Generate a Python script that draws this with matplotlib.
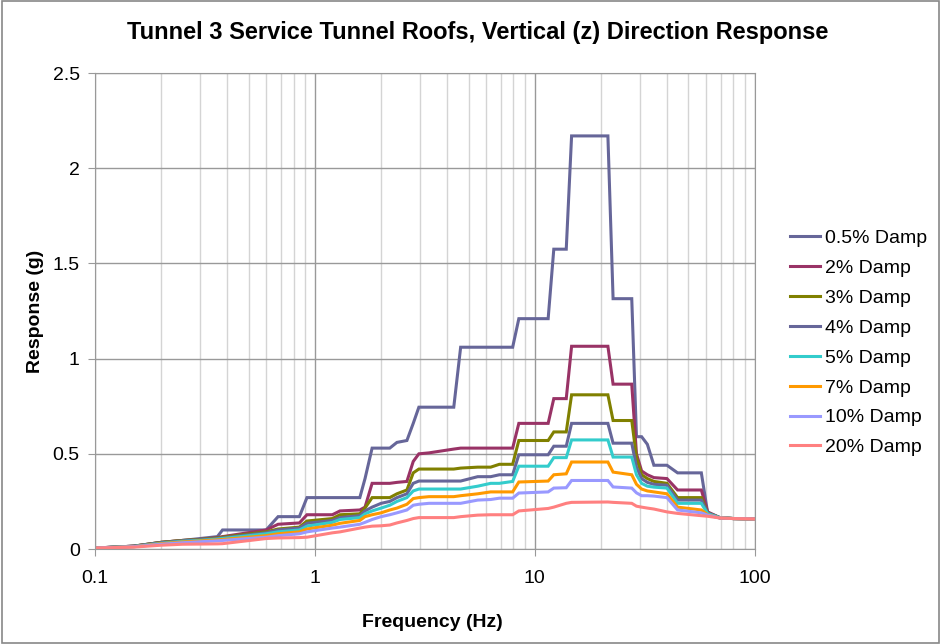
import matplotlib
matplotlib.use('Agg')

import matplotlib.pyplot as plt
from matplotlib.patches import Rectangle
from matplotlib.ticker import FixedLocator, FuncFormatter, NullFormatter

plt.rcParams['font.family'] = ['Liberation Sans', 'DejaVu Sans']

# frequency points (Hz), shared by every damping curve
freq = [0.1, 0.15, 0.2, 0.25, 0.3, 0.36, 0.38, 0.6, 0.68, 0.85, 0.92, 1.2, 1.3, 1.6,
        1.69, 1.82, 2.0, 2.19, 2.36, 2.62, 2.8, 2.97, 3.3, 4.28, 4.6, 5.5, 6.3, 6.9,
        7.93, 8.46, 11.5, 12.2, 13.9, 14.7, 21.5, 22.7, 27.6, 29.0, 30.6, 32.5, 34.8,
        39.9, 44.6, 57.2, 61.1, 69.4, 80, 100]

damp_05 = [0.005, 0.015, 0.035, 0.045, 0.055, 0.065, 0.10, 0.10, 0.17, 0.17, 0.27, 0.27, 0.27, 0.27,
           0.37, 0.53, 0.53, 0.53, 0.56, 0.57, 0.66, 0.745, 0.745, 0.745, 1.06, 1.06, 1.06, 1.06,
           1.06, 1.21, 1.21, 1.575, 1.575, 2.17, 2.17, 1.315, 1.315, 0.59, 0.59, 0.55, 0.44,
           0.44, 0.40, 0.40, 0.19, 0.163, 0.16, 0.158]
damp_2 = [0.005, 0.015, 0.035, 0.045, 0.05, 0.06, 0.065, 0.10, 0.13, 0.137, 0.18, 0.18, 0.20, 0.205,
          0.22, 0.345, 0.345, 0.345, 0.35, 0.355, 0.46, 0.50, 0.505, 0.525, 0.53, 0.53, 0.53, 0.53,
          0.53, 0.66, 0.66, 0.79, 0.79, 1.065, 1.065, 0.866, 0.866, 0.50, 0.41, 0.39, 0.375,
          0.37, 0.31, 0.31, 0.195, 0.165, 0.16, 0.158]
damp_3 = [0.005, 0.015, 0.035, 0.045, 0.05, 0.058, 0.062, 0.09, 0.105, 0.115, 0.147, 0.16, 0.18, 0.185,
          0.215, 0.27, 0.27, 0.27, 0.29, 0.31, 0.40, 0.42, 0.42, 0.42, 0.425, 0.43, 0.43, 0.445,
          0.445, 0.57, 0.57, 0.615, 0.615, 0.81, 0.81, 0.675, 0.675, 0.48, 0.39, 0.37, 0.355,
          0.345, 0.27, 0.27, 0.19, 0.165, 0.16, 0.158]
damp_4 = [0.005, 0.015, 0.033, 0.043, 0.048, 0.055, 0.058, 0.085, 0.10, 0.11, 0.135, 0.15, 0.165, 0.175,
          0.20, 0.22, 0.24, 0.25, 0.27, 0.29, 0.345, 0.357, 0.357, 0.357, 0.357, 0.38, 0.38, 0.39,
          0.39, 0.495, 0.495, 0.54, 0.54, 0.66, 0.66, 0.556, 0.556, 0.43, 0.37, 0.35, 0.34,
          0.335, 0.257, 0.257, 0.19, 0.165, 0.16, 0.158]
damp_5 = [0.005, 0.013, 0.03, 0.04, 0.045, 0.052, 0.055, 0.08, 0.09, 0.10, 0.12, 0.14, 0.155, 0.165,
          0.185, 0.20, 0.215, 0.23, 0.25, 0.27, 0.305, 0.315, 0.315, 0.315, 0.315, 0.33, 0.345, 0.345,
          0.355, 0.435, 0.435, 0.48, 0.48, 0.573, 0.573, 0.483, 0.483, 0.39, 0.345, 0.33, 0.325,
          0.32, 0.24, 0.24, 0.185, 0.165, 0.16, 0.158]
damp_7 = [0.005, 0.012, 0.028, 0.037, 0.042, 0.048, 0.05, 0.07, 0.08, 0.09, 0.105, 0.125, 0.135, 0.15,
          0.17, 0.18, 0.19, 0.205, 0.215, 0.235, 0.265, 0.27, 0.275, 0.275, 0.28, 0.29, 0.30, 0.30,
          0.30, 0.352, 0.357, 0.39, 0.395, 0.457, 0.457, 0.404, 0.39, 0.34, 0.315, 0.305, 0.30,
          0.29, 0.22, 0.205, 0.18, 0.163, 0.16, 0.158]
damp_10 = [0.005, 0.012, 0.025, 0.033, 0.038, 0.043, 0.045, 0.062, 0.07, 0.08, 0.09, 0.11, 0.115, 0.13,
           0.14, 0.155, 0.17, 0.18, 0.19, 0.205, 0.23, 0.235, 0.24, 0.24, 0.24, 0.257, 0.26, 0.267,
           0.267, 0.294, 0.30, 0.32, 0.322, 0.36, 0.36, 0.326, 0.32, 0.295, 0.28, 0.28, 0.278,
           0.27, 0.205, 0.19, 0.178, 0.163, 0.16, 0.158]
damp_20 = [0.005, 0.01, 0.02, 0.025, 0.026, 0.027, 0.028, 0.055, 0.058, 0.06, 0.062, 0.085, 0.09, 0.11,
           0.115, 0.12, 0.122, 0.126, 0.137, 0.15, 0.16, 0.165, 0.165, 0.165, 0.17, 0.178, 0.18, 0.18,
           0.18, 0.20, 0.213, 0.22, 0.24, 0.245, 0.247, 0.245, 0.24, 0.225, 0.22, 0.215, 0.21,
           0.195, 0.187, 0.175, 0.172, 0.163, 0.16, 0.158]

series = [damp_05, damp_2, damp_3, damp_4, damp_5, damp_7, damp_10, damp_20]
labels = ['0.5% Damp', '2% Damp', '3% Damp', '4% Damp', '5% Damp', '7% Damp', '10% Damp', '20% Damp']
colors = ['#666699', '#993366', '#808000', '#666699', '#33CCCC', '#FF9900', '#9999FF', '#FF8080']

fig = plt.figure(figsize=(9.41, 6.44), dpi=100)
ax = fig.add_axes([0.101, 0.1475, 0.701, 0.739])

for vals, lab, col in zip(series, labels, colors):
	ax.plot(freq, vals, color=col, lw=2.2, label=lab, solid_joinstyle='miter')

ax.set_xscale('log')
ax.set_xlim(0.1, 100)
ax.set_ylim(0, 2.5)

ax.xaxis.set_major_locator(FixedLocator([0.1, 1, 10, 100]))
ax.xaxis.set_major_formatter(FuncFormatter(lambda v, p: '%g' % v))
minors = [m * d for d in [0.1, 1, 10] for m in range(2, 10)]
ax.xaxis.set_minor_locator(FixedLocator(minors))
ax.xaxis.set_minor_formatter(NullFormatter())
ax.set_yticks([0, 0.5, 1, 1.5, 2, 2.5])
ax.yaxis.set_major_formatter(FuncFormatter(lambda v, p: '%g' % v))

ax.grid(True, which='major', color='#999999', lw=1.0)
ax.grid(True, which='minor', axis='x', color='#d4d4d4', lw=1.0)
ax.set_axisbelow(True)

for s in ax.spines.values():
	s.set_color('#999999')
ax.tick_params(which='major', direction='out', length=5, color='#999999', labelsize=14)
ax.tick_params(axis='x', pad=10)
ax.tick_params(axis='y', pad=6)
ax.tick_params(which='minor', length=0)

fig.text(0.508, 0.949, 'Tunnel 3 Service Tunnel Roofs, Vertical (z) Direction Response',
         fontsize=17, fontweight='bold', ha='center', va='center')
ax.set_xlabel('Frequency (Hz)', fontsize=14, fontweight='bold', labelpad=18)
ax.xaxis.set_label_coords(0.512, -0.137)
ax.set_ylabel('Response (g)', fontsize=14, fontweight='bold', labelpad=6)

ax.legend(loc='center left', bbox_to_anchor=(1.027, 0.433), frameon=False, fontsize=14,
          handlelength=1.55, handletextpad=0.25, labelspacing=0.63)

fig.add_artist(Rectangle((0.002, 0.002), 0.996, 0.996, transform=fig.transFigure,
                         fill=False, edgecolor='#888888', lw=1.2))

plt.savefig('out.png', dpi=100)
